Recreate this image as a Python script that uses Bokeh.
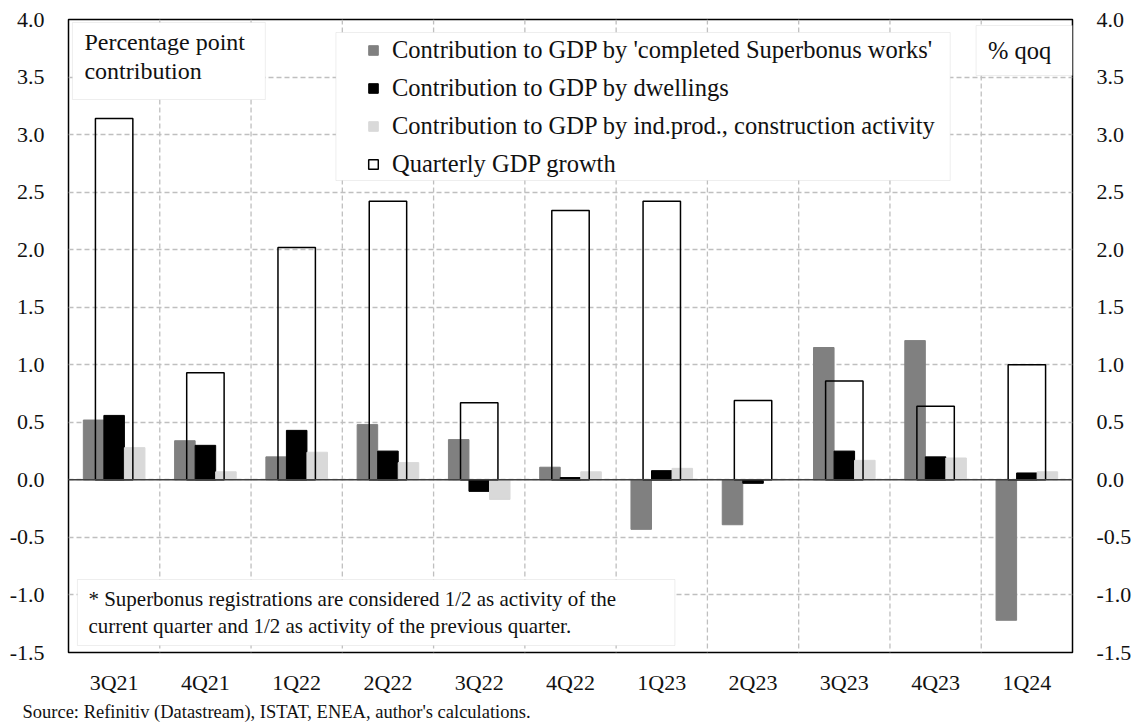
from bokeh.plotting import figure
from bokeh.models import (FactorRange, ColumnDataSource, LinearAxis, Span, BoxAnnotation,
                          Label, Legend, LegendItem, NumeralTickFormatter, SingleIntervalTicker, Title)
from bokeh.transform import dodge
from bokeh.embed import file_html
from bokeh.resources import INLINE

quarters = ["3Q21", "4Q21", "1Q22", "2Q22", "3Q22", "4Q22", "1Q23", "2Q23", "3Q23", "4Q23", "1Q24"]
superbonus = [0.52, 0.34, 0.20, 0.48, 0.35, 0.11, -0.43, -0.39, 1.15, 1.21, -1.22]
dwellings = [0.56, 0.30, 0.43, 0.25, -0.10, 0.02, 0.08, -0.03, 0.25, 0.20, 0.06]
indprod = [0.28, 0.07, 0.24, 0.15, -0.17, 0.07, 0.10, 0.00, 0.17, 0.19, 0.07]
gdp_growth = [3.14, 0.93, 2.02, 2.42, 0.67, 2.34, 2.42, 0.69, 0.86, 0.64, 1.00]

legend_labels = ["Contribution to GDP by 'completed Superbonus works'",
                 "Contribution to GDP by dwellings",
                 "Contribution to GDP by ind.prod., construction activity",
                 "Quarterly GDP growth"]
box_title = "Percentage point\ncontribution"
unit_text = "% qoq"
footnote = ("* Superbonus registrations are considered 1/2 as activity of the\n"
            "current quarter and 1/2 as activity of the previous quarter.")
source_text = "Source: Refinitiv (Datastream), ISTAT, ENEA, author's calculations."

FONT = "'Liberation Serif', serif"
Y0, Y1 = -1.5, 4.0

src = ColumnDataSource(dict(q=quarters, sb=superbonus, dw=dwellings, ip=indprod, gdp=gdp_growth))

W, H = 1134, 724
BL, BR, BT, BB = 68, 56, 19, 72
p = figure(x_range=FactorRange(*quarters), y_range=(Y0, Y1), width=W, height=H,
           output_backend="svg", toolbar_location=None,
           min_border_left=BL, min_border_right=BR, min_border_top=BT, min_border_bottom=BB)
p.background_fill_color = "white"
p.border_fill_color = "white"
p.outline_line_color = "black"
p.outline_line_width = 1.5

# pixel -> data helpers (page coordinates)
FL = BL
FT = BT
FW = W - BL - BR
FH = H - BT - BB
def dx(px):
    return (px - FL) / FW * len(quarters)
def dy(py):
    return Y1 - (py - FT) / FH * (Y1 - Y0)

# grids
p.xgrid.grid_line_color = None
p.ygrid.grid_line_color = "#bfbfbf"
p.ygrid.grid_line_dash = "5 3"
p.ygrid.grid_line_width = 1.3
p.ygrid.ticker = SingleIntervalTicker(interval=0.5)
for i in range(1, len(quarters)):
    p.add_layout(Span(location=i, dimension="height", line_color="#bfbfbf",
                      line_dash="5 3", line_width=1.3, level="underlay"))

w = 0.225
r1 = p.vbar(x=dodge("q", -w, range=p.x_range), top="sb", width=w, source=src,
            fill_color="#808080", line_color="#808080")
r2 = p.vbar(x=dodge("q", 0, range=p.x_range), top="dw", width=w, source=src,
            fill_color="#000000", line_color="#000000")
r3 = p.vbar(x=dodge("q", w, range=p.x_range), top="ip", width=w, source=src,
            fill_color="#d9d9d9", line_color="#d9d9d9")
r4 = p.vbar(x="q", top="gdp", width=0.41, source=src, fill_color=None,
            line_color="black", line_width=1.5)

p.add_layout(Span(location=0, dimension="width", line_color="#404040", line_width=1.5,
                  level="annotation"))

# axes
p.yaxis.ticker = SingleIntervalTicker(interval=0.5)
p.yaxis.formatter = NumeralTickFormatter(format="0.0")
raxis = LinearAxis(ticker=SingleIntervalTicker(interval=0.5),
                   formatter=NumeralTickFormatter(format="0.0"))
p.add_layout(raxis, "right")
for ax in [p.yaxis[0], raxis, p.xaxis[0]]:
    ax.axis_line_color = None
    ax.major_tick_line_color = None
    ax.minor_tick_line_color = None
    ax.major_tick_in = 0
    ax.major_tick_out = 0
    ax.major_label_text_font = FONT
    ax.major_label_text_font_size = "22px"
    ax.major_label_text_color = "#111111"
p.yaxis[0].major_label_standoff = 20
raxis.major_label_standoff = 20
p.xaxis[0].major_label_standoff = 17

def box(l, r, t, b):
    p.add_layout(BoxAnnotation(left=dx(l), right=dx(r), top=dy(t), bottom=dy(b),
                               fill_color="white", fill_alpha=1.0,
                               line_color="#c8c8c8", line_width=1, level="annotation"))

box(72, 266, 22, 99)
p.add_layout(Label(x=dx(84), y=dy(28), text=box_title, text_font=FONT,
                   text_font_size="24px", text_baseline="top", text_line_height=1.15,
                   text_color="#111111"))
box(981, 1078, 25, 75)
p.add_layout(Label(x=dx(993), y=dy(50), text=unit_text, text_font=FONT,
                   text_font_size="24.5px", text_baseline="middle", text_color="#111111"))
box(77, 678, 579, 645)
p.add_layout(Label(x=dx(88), y=dy(586), text=footnote, text_font=FONT,
                   text_font_size="21px", text_baseline="top", text_line_height=1.14,
                   text_color="#111111"))
box(337, 955, 32, 180)

legend = Legend(items=[LegendItem(label=legend_labels[0], renderers=[r1]),
                       LegendItem(label=legend_labels[1], renderers=[r2]),
                       LegendItem(label=legend_labels[2], renderers=[r3]),
                       LegendItem(label=legend_labels[3], renderers=[r4])],
                location=(367 - FL, (FT + FH) - 177.5), padding=0, margin=0,
                spacing=10, label_height=25, glyph_height=12, glyph_width=12,
                label_standoff=13, label_text_font=FONT, label_text_font_size="24.5px",
                label_text_color="#111111", border_line_alpha=0, background_fill_alpha=0)
p.add_layout(legend)

p.add_layout(Title(text=source_text, align="left", offset=22 - FL, standoff=4,
                   text_font=FONT, text_font_size="18.5px", text_font_style="normal",
                   text_color="#111111"), "below")

open("out.html", "w").write(file_html(p, INLINE))
